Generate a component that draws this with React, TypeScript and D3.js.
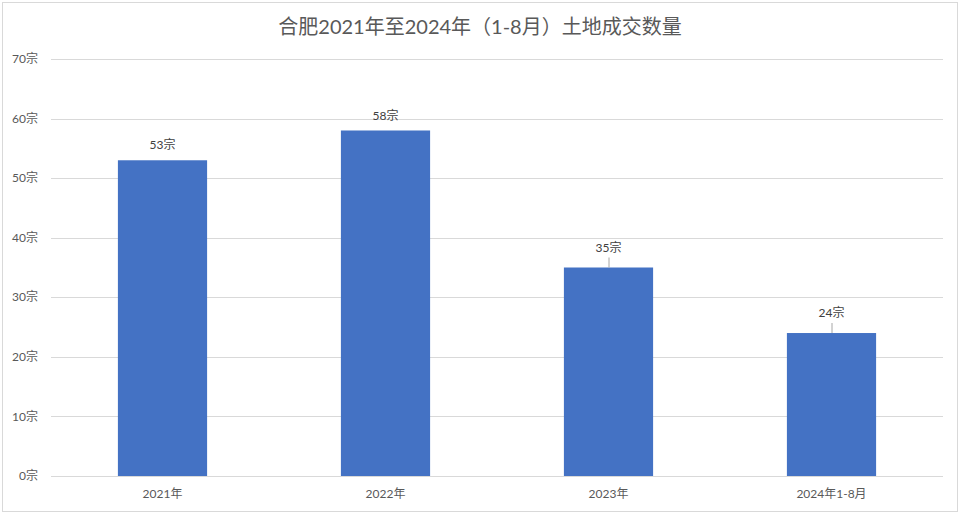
import { useEffect, useRef } from "react";
import * as d3 from "d3";

// chart data
const categories = ["2021年", "2022年", "2023年", "2024年1-8月"];
const deals = [53, 58, 35, 24];
const yTicks = [0, 10, 20, 30, 40, 50, 60, 70];
const title = "合肥2021年至2024年（1-8月）土地成交数量";
// labels that were pulled up with a leader line in the original
const leaderLabels = [false, false, true, true];

const FONT = 'Lato, "Noto Sans CJK SC", sans-serif';

export default function App() {
  const svgRef = useRef<SVGSVGElement | null>(null);

  useEffect(() => {
    const width = 960;
    const height = 514;
    const margin = { top: 59, right: 17, bottom: 38, left: 51 };
    const svg = d3.select(svgRef.current);
    svg.selectAll("*").remove();

    // outer frame
    svg
      .append("rect")
      .attr("x", 2.5)
      .attr("y", 2.5)
      .attr("width", width - 5)
      .attr("height", height - 5)
      .attr("fill", "#fff")
      .attr("stroke", "#d9d9d9");

    svg
      .append("text")
      .attr("x", width / 2)
      .attr("y", 34)
      .attr("text-anchor", "middle")
      .attr("font-size", "20px")
      .attr("fill", "#595959")
      .text(title);

    const x = d3
      .scaleBand()
      .domain(categories)
      .range([margin.left, width - margin.right])
      .paddingInner(0.6)
      .paddingOuter(0.3);

    const y = d3
      .scaleLinear()
      .domain([0, 70])
      .range([height - margin.bottom, margin.top]);

    // gridlines
    svg
      .append("g")
      .selectAll("line")
      .data(yTicks)
      .join("line")
      .attr("x1", margin.left)
      .attr("x2", width - margin.right)
      .attr("y1", (d) => Math.round(y(d)) + 0.5)
      .attr("y2", (d) => Math.round(y(d)) + 0.5)
      .attr("stroke", "#d9d9d9")
      .attr("stroke-width", 1);

    // y labels
    svg
      .append("g")
      .selectAll("text")
      .data(yTicks)
      .join("text")
      .attr("x", 38)
      .attr("y", (d) => y(d))
      .attr("dy", "0.35em")
      .attr("text-anchor", "end")
      .attr("font-size", "12px")
      .attr("fill", "#595959")
      .text((d) => `${d}宗`);

    // bars
    svg
      .append("g")
      .selectAll("rect")
      .data(deals)
      .join("rect")
      .attr("x", (_, i) => x(categories[i])!)
      .attr("y", (d) => y(d))
      .attr("width", x.bandwidth())
      .attr("height", (d) => y(0) - y(d))
      .attr("fill", "#4472c4");

    // value labels
    const labels = svg.append("g");
    deals.forEach((d, i) => {
      const cx = x(categories[i])! + x.bandwidth() / 2;
      const lift = leaderLabels[i] ? 20 : 15;
      labels
        .append("text")
        .attr("x", cx)
        .attr("y", y(d) - lift)
        .attr("dy", "0.35em")
        .attr("text-anchor", "middle")
        .attr("font-size", "12px")
        .attr("fill", "#404040")
        .text(`${d}宗`);
      if (leaderLabels[i]) {
        labels
          .append("line")
          .attr("x1", cx + 0.5)
          .attr("x2", cx + 0.5)
          .attr("y1", y(d) - 10)
          .attr("y2", y(d))
          .attr("stroke", "#a6a6a6");
      }
    });

    // x labels
    svg
      .append("g")
      .selectAll("text")
      .data(categories)
      .join("text")
      .attr("x", (d) => x(d)! + x.bandwidth() / 2)
      .attr("y", height - margin.bottom + 18)
      .attr("dy", "0.35em")
      .attr("text-anchor", "middle")
      .attr("font-size", "12px")
      .attr("fill", "#595959")
      .text((d) => d);
  }, []);

  return (
    <svg
      ref={svgRef}
      width={960}
      height={514}
      style={{ position: "absolute", left: 0, top: 0, fontFamily: FONT }}
    ></svg>
  );
}
